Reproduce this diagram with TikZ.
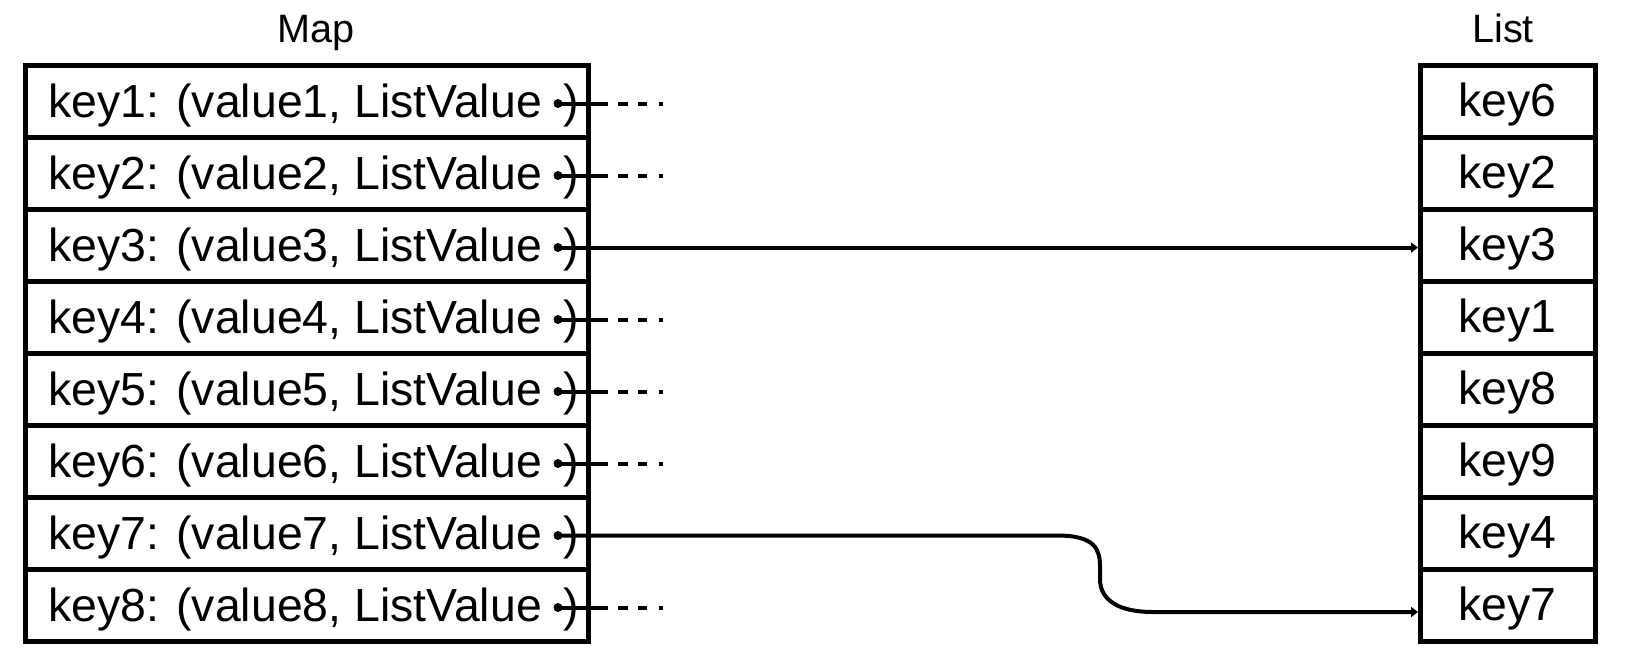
\documentclass[tikz,border=0pt]{standalone}
\usepackage{fontspec}
\setmainfont{Liberation Sans}
\usetikzlibrary{arrows.meta}

\tikzset{
  mapcell/.style={draw, line width=2.5pt, minimum width=281.25pt, minimum height=36pt, inner sep=0pt},
  listcell/.style={draw, line width=2.5pt, minimum width=87.25pt, minimum height=36pt, inner sep=0pt,
    text height=20pt, text depth=5pt, font=\fontsize{23.2pt}{26pt}\selectfont},
  keytext/.style={inner sep=0pt, font=\fontsize{23.2pt}{26pt}\selectfont},
  headline/.style={inner sep=0pt, anchor=base, font=\fontsize{19.8pt}{24pt}\selectfont},
  dot/.style={circle, fill, inner sep=0pt, minimum size=4.5pt},
  ptr/.style={line width=2pt, -{Triangle[length=3.5pt, width=5pt]}},
  stub/.style={line width=2pt, dash pattern=on 25pt off 5pt on 5pt off 5pt on 4.5pt off 6pt on 3pt}
}

\begin{document}
\begin{tikzpicture}[x=0.5pt, y=-0.5pt]
\useasboundingbox (0,0) rectangle (1626,670);

% Titles
\node[headline] (maptitle) at (316.5,42.5) {Map};
\node[headline] (listtitle) at (1503,42.5) {List};

% Map cells
\node[mapcell] (m1) at (306.75,101.5) {};
\node[mapcell] (m2) at (306.75,173.5) {};
\node[mapcell] (m3) at (306.75,245.5) {};
\node[mapcell] (m4) at (306.75,317.5) {};
\node[mapcell] (m5) at (306.75,389.5) {};
\node[mapcell] (m6) at (306.75,461.5) {};
\node[mapcell] (m7) at (306.75,533.5) {};
\node[mapcell] (m8) at (306.75,605.5) {};

% Map entries
\node[keytext, anchor=base west] (t1) at (48,117) {key1: (value1, ListValue};
\node[keytext, anchor=base west] (t2) at (48,189) {key2: (value2, ListValue};
\node[keytext, anchor=base west] (t3) at (48,261) {key3: (value3, ListValue};
\node[keytext, anchor=base west] (t4) at (48,333) {key4: (value4, ListValue};
\node[keytext, anchor=base west] (t5) at (48,405) {key5: (value5, ListValue};
\node[keytext, anchor=base west] (t6) at (48,477) {key6: (value6, ListValue};
\node[keytext, anchor=base west] (t7) at (48,549) {key7: (value7, ListValue};
\node[keytext, anchor=base west] (t8) at (48,621) {key8: (value8, ListValue};
\node[keytext, anchor=base east] (p1) at (579,117) {)};
\node[keytext, anchor=base east] (p2) at (579,189) {)};
\node[keytext, anchor=base east] (p3) at (579,261) {)};
\node[keytext, anchor=base east] (p4) at (579,333) {)};
\node[keytext, anchor=base east] (p5) at (579,405) {)};
\node[keytext, anchor=base east] (p6) at (579,477) {)};
\node[keytext, anchor=base east] (p7) at (579,549) {)};
\node[keytext, anchor=base east] (p8) at (579,621) {)};

% List cells
\node[listcell] (l1) at (1507.75,101.5) {key6};
\node[listcell] (l2) at (1507.75,173.5) {key2};
\node[listcell] (l3) at (1507.75,245.5) {key3};
\node[listcell] (l4) at (1507.75,317.5) {key1};
\node[listcell] (l5) at (1507.75,389.5) {key8};
\node[listcell] (l6) at (1507.75,461.5) {key9};
\node[listcell] (l7) at (1507.75,533.5) {key4};
\node[listcell] (l8) at (1507.75,605.5) {key7};

% Pointers
\node[dot] (d1) at (558,103.5) {};
\node[dot] (d2) at (558,175.5) {};
\node[dot] (d3) at (558,247.5) {};
\node[dot] (d4) at (558,319.5) {};
\node[dot] (d5) at (558,391.5) {};
\node[dot] (d6) at (558,463.5) {};
\node[dot] (d7) at (558,535.5) {};
\node[dot] (d8) at (558,607.5) {};

\coordinate (s1) at (663,103.5);
\coordinate (s2) at (663,175.5);
\coordinate (s4) at (663,319.5);
\coordinate (s5) at (663,391.5);
\coordinate (s6) at (663,463.5);
\coordinate (s8) at (663,607.5);
\draw[stub] (d1.center) -- (s1);
\draw[stub] (d2.center) -- (s2);
\draw[stub] (d4.center) -- (s4);
\draw[stub] (d5.center) -- (s5);
\draw[stub] (d6.center) -- (s6);
\draw[stub] (d8.center) -- (s8);

\draw[ptr] (d3.center) -- (d3.center -| l3.west);

\coordinate (c7) at (1153,612);
\draw[ptr] (d7.center) -- (1057,535.5)
  .. controls (1096,535.5) and (1100,550) .. (1100,567) -- (1100,579)
  .. controls (1100,601) and (1120,612) .. (c7) -- (c7 -| l8.west);
\end{tikzpicture}
\end{document}
